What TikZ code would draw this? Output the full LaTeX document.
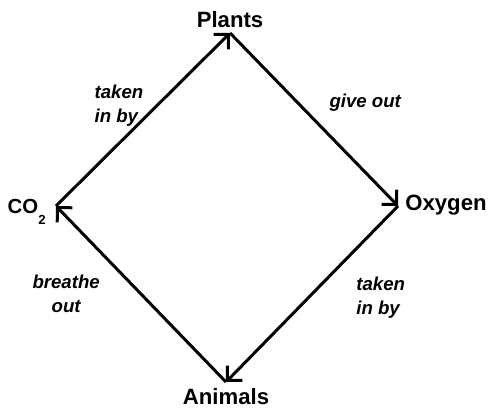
\documentclass[tikz,border=0pt]{standalone}
\usepackage{fontspec}
\setmainfont{Liberation Sans}
\usetikzlibrary{arrows.meta, positioning}

\begin{document}
\begin{tikzpicture}[x=0.02cm, y=-0.02cm,
  vtx/.style={inner sep=0pt, minimum size=0pt, outer sep=0pt},
  word/.style={font=\bfseries\fontsize{12.6}{14}\selectfont, inner sep=0pt},
  remark/.style={font=\bfseries\itshape\fontsize{10.6}{13.8}\selectfont,
                 inner sep=0pt},
  arr/.style={-{Straight Barb[length=6pt, width=12pt]}, line width=1.7pt,
              line join=round}
]
\useasboundingbox (0,0) rectangle (499,409);

% corners of the cycle
\node[vtx] (pl) at (230,33) {};
\node[vtx] (co) at (56,206) {};
\node[vtx] (ox) at (398,206) {};
\node[vtx] (an) at (226,382) {};

% names at the corners
\node[word, above=3.4pt of pl, anchor=base] (plants) {Plants};
\node[word, left=5.7pt of co, anchor=base east, yshift=-4pt] (co2)
    {\fontsize{11.6}{14}\selectfont CO\raisebox{-6.5pt}{\fontsize{7.5}{8}\selectfont 2}};
\node[word, right=4pt of ox, anchor=base west, yshift=-2.3pt] (oxygen)
    {Oxygen};
\node[word, below=13pt of an, anchor=base] (animals) {Animals};

% arrows round the cycle
\draw[arr] (co) -- (pl)
    node[remark, midway, anchor=north west, align=left,
         xshift=-28.4pt, yshift=20.7pt] {taken\\in by};
\draw[arr] (pl) -- (ox)
    node[remark, midway, anchor=base west, xshift=8pt, yshift=7.1pt]
    {give out};
\draw[arr] (ox) -- (an)
    node[remark, midway, anchor=north west, align=left,
         xshift=24.4pt, yshift=10.8pt] {taken\\in by};
\draw[arr] (an) -- (co)
    node[remark, midway, anchor=north, align=center,
         xshift=-42.6pt, yshift=11.9pt] {breathe\\out};
\end{tikzpicture}
\end{document}
